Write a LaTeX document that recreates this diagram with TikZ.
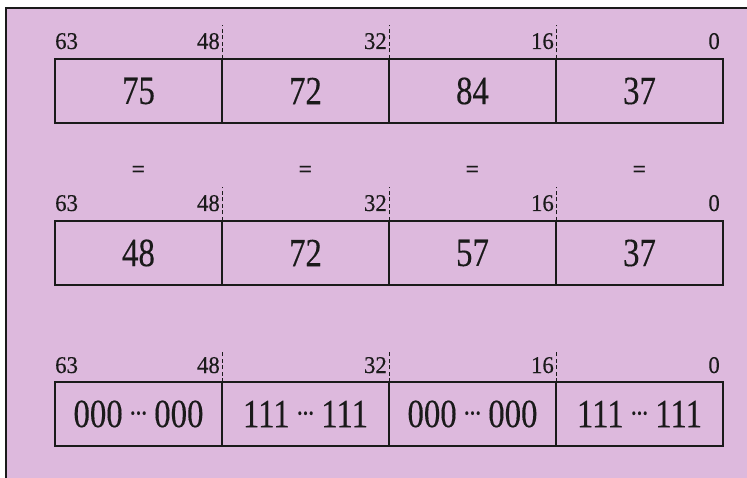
\documentclass[tikz,border=0pt]{standalone}
\usepackage{fontspec}
\setmainfont{Liberation Serif}
\newfontfamily\fieldfont[FakeStretch=0.82, FakeBold=0.3]{Liberation Serif}
\newfontfamily\bitfont[FakeStretch=0.95, FakeBold=0.25]{Liberation Serif}
\usepackage{xcolor}
\definecolor{lilac}{HTML}{DDB9DD}
\definecolor{ink}{HTML}{1A1A1A}
\usetikzlibrary{positioning}

\newcommand{\dotsgap}{\hspace{7pt}{\fontsize{30}{30}\selectfont\raisebox{4pt}{\kern-1pt·\kern-2.5pt·\kern-2.5pt·}}\hspace{6pt}}

\begin{document}
\begin{tikzpicture}[
  x=1pt, y=-1pt,
  every node/.style={align=center, text=ink},
  field/.style={rectangle, draw=ink, line width=1.4pt, outer sep=0pt, inner sep=0pt,
    minimum width=167pt, minimum height=64pt, font=\fieldfont\fontsize{40}{42}\selectfont},
  bitLabel/.style={font=\bitfont\fontsize{24}{25}\selectfont, inner sep=0pt},
  eqSign/.style={font=\bfseries\fontsize{24}{26}\selectfont, inner sep=0pt},
  bitTick/.style={ink, line width=0.8pt, dash pattern=on 4pt off 2.5pt},
]

% ------------------- page and frame -------------------
\useasboundingbox (0,0) rectangle (747,478);
\fill[lilac] (6,8) rectangle (747,478);
\draw[ink, line width=2.2pt] (747,8) -- (6,8) -- (6,478);

% ------------------- first register -------------------
\node[field] (a1) at (138.5,91) {75};
\node[field, right=0pt of a1] (a2) {72};
\node[field, right=0pt of a2] (a3) {84};
\node[field, right=0pt of a3] (a4) {37};

\node[bitLabel, anchor=base west] (a63) at ([yshift=10pt]a1.north west) {63};
\node[bitLabel, anchor=base east] (a48) at ([xshift=-2pt, yshift=10pt]a1.north east) {48};
\node[bitLabel, anchor=base east] (a32) at ([xshift=-2pt, yshift=10pt]a2.north east) {32};
\node[bitLabel, anchor=base east] (a16) at ([xshift=-2pt, yshift=10pt]a3.north east) {16};
\node[bitLabel, anchor=base east] (a0)  at ([xshift=-3pt, yshift=10pt]a4.north east) {0};

\draw[bitTick] (a1.north east) -- ([yshift=34pt]a1.north east);
\draw[bitTick] (a2.north east) -- ([yshift=34pt]a2.north east);
\draw[bitTick] (a3.north east) -- ([yshift=34pt]a3.north east);

% comparison signs
\node[eqSign] (eq1) at ([yshift=-49pt]a1.south) {=};
\node[eqSign] (eq2) at ([yshift=-49pt]a2.south) {=};
\node[eqSign] (eq3) at ([yshift=-49pt]a3.south) {=};
\node[eqSign] (eq4) at ([yshift=-49pt]a4.south) {=};

% ------------------- second register ------------------
\node[field] (b1) at (138.5,253) {48};
\node[field, right=0pt of b1] (b2) {72};
\node[field, right=0pt of b2] (b3) {57};
\node[field, right=0pt of b3] (b4) {37};

\node[bitLabel, anchor=base west] (b63) at ([yshift=10pt]b1.north west) {63};
\node[bitLabel, anchor=base east] (b48) at ([xshift=-2pt, yshift=10pt]b1.north east) {48};
\node[bitLabel, anchor=base east] (b32) at ([xshift=-2pt, yshift=10pt]b2.north east) {32};
\node[bitLabel, anchor=base east] (b16) at ([xshift=-2pt, yshift=10pt]b3.north east) {16};
\node[bitLabel, anchor=base east] (b0)  at ([xshift=-3pt, yshift=10pt]b4.north east) {0};

\draw[bitTick] (b1.north east) -- ([yshift=34pt]b1.north east);
\draw[bitTick] (b2.north east) -- ([yshift=34pt]b2.north east);
\draw[bitTick] (b3.north east) -- ([yshift=34pt]b3.north east);

% ------------------- result mask ----------------------
\node[field] (c1) at (138.5,414) {000\dotsgap000};
\node[field, right=0pt of c1] (c2) {111\dotsgap111};
\node[field, right=0pt of c2] (c3) {000\dotsgap000};
\node[field, right=0pt of c3] (c4) {111\dotsgap111};

\node[bitLabel, anchor=base west] (c63) at ([yshift=9pt]c1.north west) {63};
\node[bitLabel, anchor=base east] (c48) at ([xshift=-2pt, yshift=9pt]c1.north east) {48};
\node[bitLabel, anchor=base east] (c32) at ([xshift=-2pt, yshift=9pt]c2.north east) {32};
\node[bitLabel, anchor=base east] (c16) at ([xshift=-2pt, yshift=9pt]c3.north east) {16};
\node[bitLabel, anchor=base east] (c0)  at ([xshift=-3pt, yshift=9pt]c4.north east) {0};

\draw[bitTick] (c1.north east) -- ([yshift=30pt]c1.north east);
\draw[bitTick] (c2.north east) -- ([yshift=30pt]c2.north east);
\draw[bitTick] (c3.north east) -- ([yshift=30pt]c3.north east);

\end{tikzpicture}
\end{document}
